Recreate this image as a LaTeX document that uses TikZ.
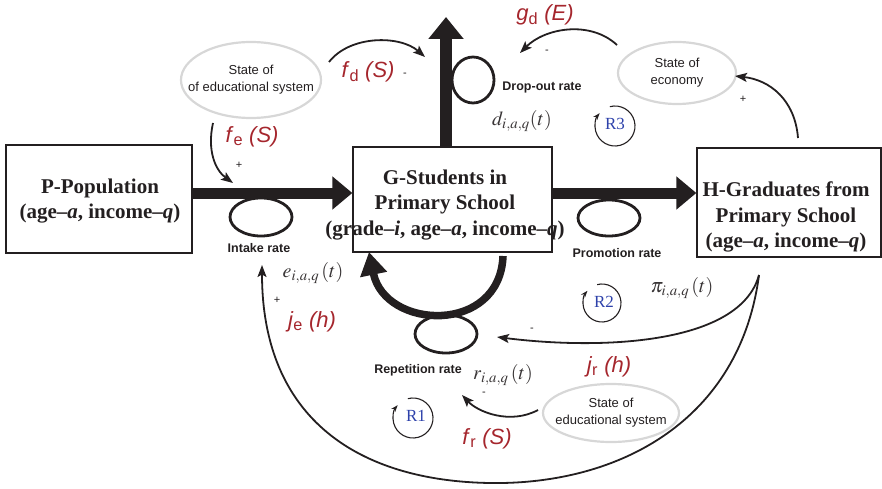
\documentclass[tikz,border=0pt]{standalone}
\usepackage{mathptmx}
\usepackage{fontspec}
\setmainfont{Liberation Serif}
\setsansfont{Liberation Sans}
\usetikzlibrary{arrows.meta,shapes.geometric,calc}
\definecolor{lred}{RGB}{165,38,45}
\definecolor{lblue}{RGB}{45,65,170}
\definecolor{egray}{RGB}{215,215,215}
\definecolor{ink}{RGB}{35,31,32}
\begin{document}
\begin{tikzpicture}[x=1pt,y=-1pt,
  box/.style={draw=ink, line width=1.3pt, inner sep=0pt},
  boxtext/.style={text=ink, font=\bfseries\fontsize{21}{25.5}\selectfont, align=center},
  valve/.style={draw=ink, ellipse, line width=2.8pt, inner sep=0pt},
  stateell/.style={draw=egray, ellipse, line width=2.2pt, inner sep=0pt},
  statetxt/.style={text=ink, font=\sffamily\fontsize{13}{17}\selectfont, align=center},
  rate/.style={text=ink, font=\sffamily\bfseries\fontsize{12.5}{14}\selectfont},
  flow/.style={draw=ink, line width=11pt, -{Triangle[length=20pt,width=32pt]}},
  link/.style={draw=ink, line width=1.8pt, -{Stealth[length=12pt,width=9pt,inset=2.5pt]}},
  flab/.style={text=lred, inner sep=1pt, font=\sffamily\fontsize{22}{24}\selectfont},
  sgn/.style={text=ink, font=\sffamily\fontsize{11}{12}\selectfont},
  mlab/.style={text=ink!90, inner sep=1pt, font=\fontsize{20}{22}\selectfont},
  loopar/.style={draw=ink, line width=1.1pt, -{Stealth[length=7pt,width=5pt]}},
  rl/.style={text=lblue, font=\fontsize{17}{18}\selectfont}]
\useasboundingbox (0,0) rectangle (882,489);

% boxes
\node[box, minimum width=186, minimum height=108] (P) at (99,199) {};
\node[boxtext] (Pt) at (100,201) {P-Population\\(age–\textit{a}, income–\textit{q})};
\node[box, minimum width=199, minimum height=105] (G) at (452.5,199.5) {};
\node[boxtext] (Gt) at (445,205) {G-Students in\\Primary School\\(grade–\textit{i}, age–\textit{a}, income–\textit{q})};
\node[box, minimum width=184, minimum height=109] (H) at (789,202.5) {};
\node[boxtext] (Ht) at (786,217) {H-Graduates from\\Primary School\\(age–\textit{a}, income–\textit{q})};

% main flows
\draw[flow] ($(P.east)+(0,-6)$) -- ($(G.west)+(0,-6.5)$);
\draw[flow] ($(G.east)+(0,-6.5)$) -- ($(H.west)+(0,-9.5)$);
\coordinate (dropend) at (446,17);
\draw[draw=ink, line width=12pt, -{Triangle[length=22pt,width=34pt]}] ($(G.north)+(-6.5,0)$) -- (dropend);
\coordinate (rp1) at (503,256);
\coordinate (rp2) at (369,252);
\draw[draw=ink, line width=7.5pt, -{Triangle[length=23pt,width=26pt]}] (rp1) .. controls (500,335) and (385,330) .. (rp2);

% valves
\node[valve, minimum width=62, minimum height=38] (IV) at (261,217) {};
\node[valve, minimum width=62, minimum height=36] (PV) at (609,218) {};
\node[valve, minimum width=42, minimum height=46] (DV) at (473,80) {};
\node[valve, minimum width=62, minimum height=38] (RV) at (446,334) {};

\node[rate] (IL) at (259,248) {Intake rate};
\node[rate] (PL) at (617,253) {Promotion rate};
\node[rate] (DL) at (542,87) {Drop-out rate};
\node[rate] (RL) at (418,370) {Repetition rate};

\node[mlab] (dl) at (522,121) {$d_{i,a,q}(t)$};
\node[mlab] (el) at (313,273) {$e_{i,a,q}\,(t)$};
\node[mlab] (pl) at (682,288) {$\pi_{i,a,q}\,(t)$};
\node[mlab] (rlab) at (503,375) {$r_{i,a,q}\,(t)$};

% states
\node[stateell, minimum width=140, minimum height=76] (SE1) at (251,80) {};
\node[statetxt] (SE1t) at (SE1) {State of\\of educational system};
\node[stateell, minimum width=118, minimum height=62] (EC) at (677,73) {};
\node[statetxt] (ECt) at (EC) {State of\\economy};
\node[stateell, minimum width=136, minimum height=58] (SE2) at (611,413) {};
\node[statetxt] (SE2t) at (SE2) {State of\\educational system};

% causal links
\coordinate (fd1) at (329,62); \coordinate (fd2) at (425,57);
\draw[link] (fd1) .. controls (350,35) and (400,35) .. (fd2);
\coordinate (fe1) at (213,123); \coordinate (fe2) at (233,183);
\draw[link] (fe1) .. controls (207,150) and (215,170) .. (fe2);
\coordinate (gd1) at (617,45); \coordinate (gd2) at (520,53);
\draw[link] (gd1) .. controls (590,20) and (545,28) .. (gd2);
\coordinate (ec1) at (798,138); \coordinate (ec2) at (735,76);
\draw[link] (ec1) .. controls (795,100) and (770,80) .. (ec2);
\coordinate (hj) at (759,275); \coordinate (jr2) at (497,337); \coordinate (je2) at (262,265);
\draw[link] (hj) .. controls (740,345) and (600,350) .. (jr2);
\draw[link] (hj) .. controls (740,420) and (620,485) .. (490,483) .. controls (360,481) and (262,420) .. (je2);
\coordinate (fr1) at (538,410); \coordinate (fr2) at (462,395);
\draw[link] (fr1) .. controls (510,425) and (478,412) .. (fr2);

% link labels
\node[flab] (fdl) at (368,72) {\textit{f}\textsubscript{d} \textit{(S)}};
\node[flab] (gdl) at (545,15) {\textit{g}\textsubscript{d} \textit{(E)}};
\node[flab] (fel) at (252,137) {\textit{f}\textsubscript{e} \textit{(S)}};
\node[flab] (jel) at (312,322) {\textit{j}\textsubscript{e} \textit{(h)}};
\node[flab] (jrl) at (609,367) {\textit{j}\textsubscript{r} \textit{(h)}};
\node[flab] (frl) at (487,439) {\textit{f}\textsubscript{r} \textit{(S)}};

\node[sgn] (s1) at (405,75) {-};
\node[sgn] (s2) at (547,52) {-};
\node[sgn] (s3) at (743,99) {+};
\node[sgn] (s4) at (239,165) {+};
\node[sgn] (s5) at (277,300) {+};
\node[sgn] (s6) at (532,330) {-};
\node[sgn] (s7) at (484,394) {-};

% loops
\coordinate (R1c) at (413,418);
\draw[loopar] (R1c) ++(-105:20) arc[start angle=-105, end angle=220, radius=20];
\node[rl] (R1) at ($(R1c)+(3,-2)$) {R1};
\coordinate (R2c) at (602,303);
\draw[loopar] (R2c) ++(-105:19) arc[start angle=-105, end angle=220, radius=19];
\node[rl] (R2) at ($(R2c)+(2,-1)$) {R2};
\coordinate (R3c) at (615,126);
\draw[loopar] (R3c) ++(-105:20) arc[start angle=-105, end angle=220, radius=20];
\node[rl] (R3) at ($(R3c)+(0,-2)$) {R3};
\end{tikzpicture}
\end{document}
